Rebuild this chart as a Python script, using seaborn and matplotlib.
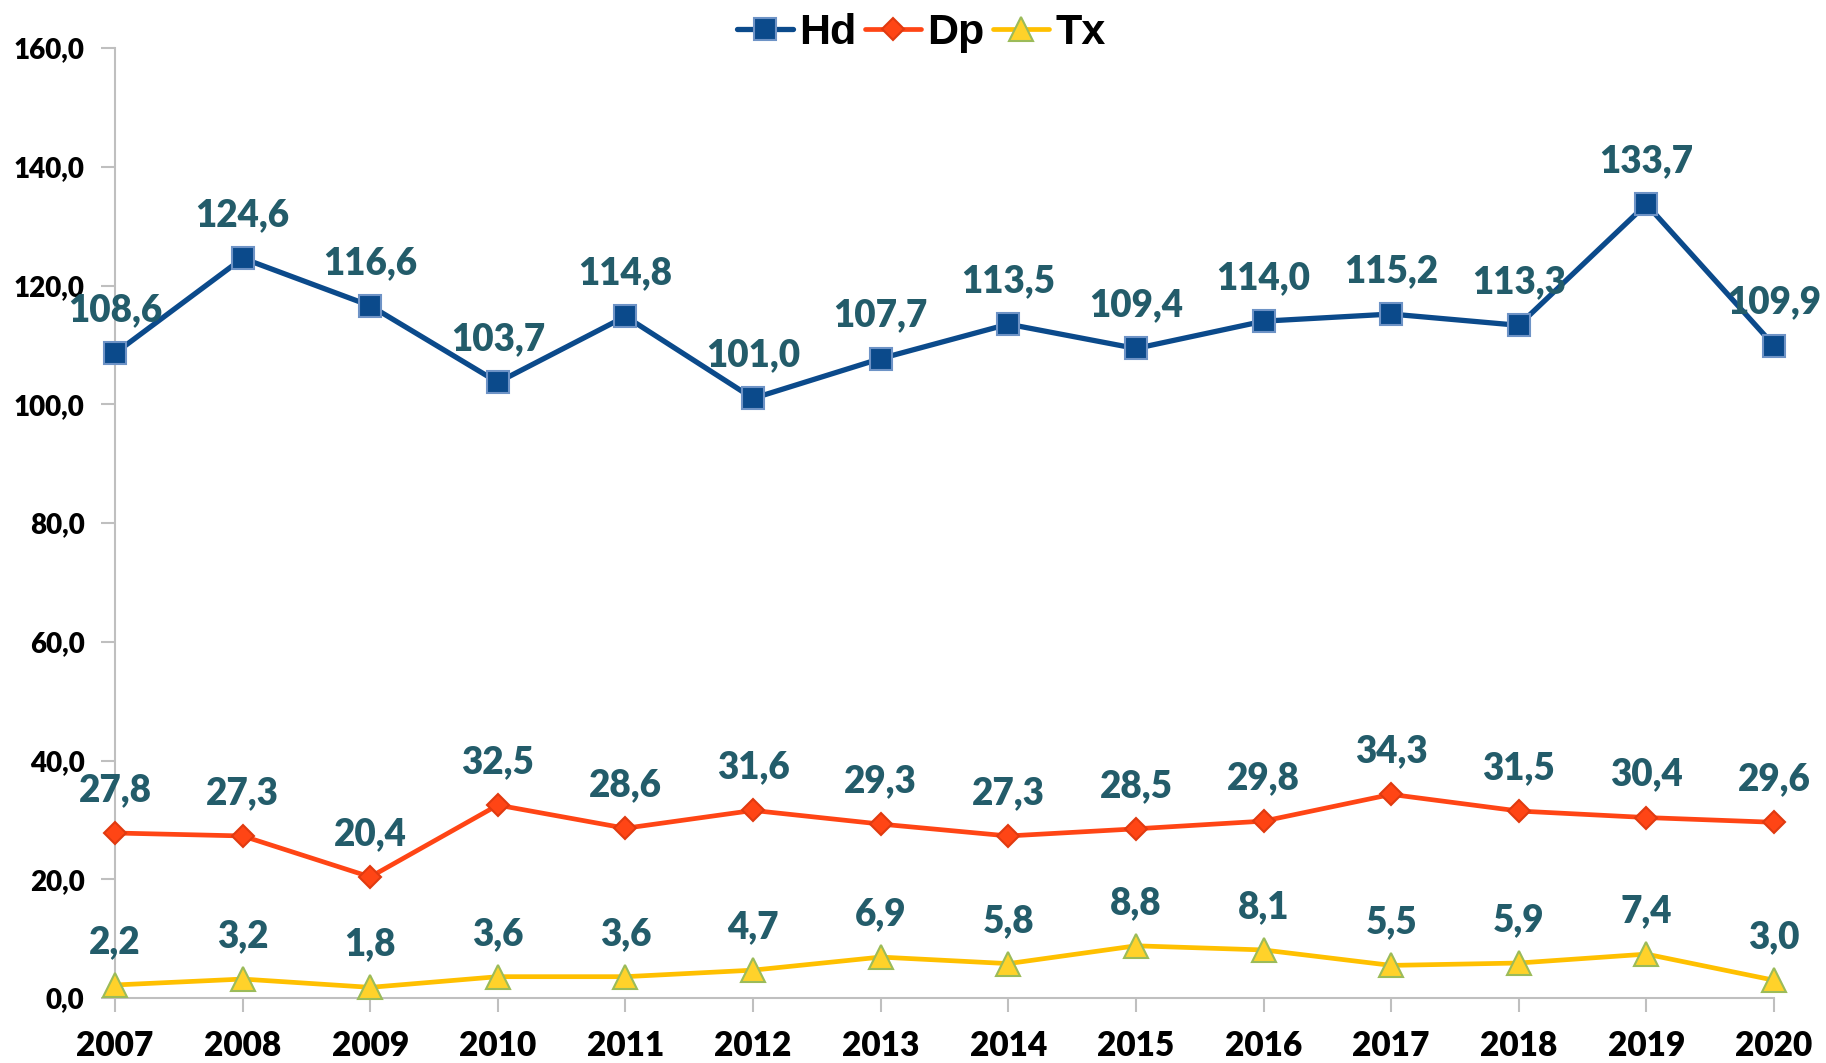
import matplotlib
matplotlib.use("Agg")
import matplotlib.pyplot as plt
import seaborn as sns
import pandas as pd
from matplotlib.ticker import FuncFormatter

years = [2007, 2008, 2009, 2010, 2011, 2012, 2013, 2014, 2015, 2016, 2017, 2018, 2019, 2020]
hd = [108.6, 124.6, 116.6, 103.7, 114.8, 101.0, 107.7, 113.5, 109.4, 114.0, 115.2, 113.3, 133.7, 109.9]
dp = [27.8, 27.3, 20.4, 32.5, 28.6, 31.6, 29.3, 27.3, 28.5, 29.8, 34.3, 31.5, 30.4, 29.6]
tx = [2.2, 3.2, 1.8, 3.6, 3.6, 4.7, 6.9, 5.8, 8.8, 8.1, 5.5, 5.9, 7.4, 3.0]
y_ticks = [0, 20, 40, 60, 80, 100, 120, 140, 160]

sns.set_theme(style="white")
plt.rcParams["font.family"] = ["Lato", "DejaVu Sans"]

fig = plt.figure(figsize=(18.26, 10.63), dpi=100)
ax = fig.add_axes([0.063, 0.0611, 0.9085, 0.8937])

series = [
    ("Hd", hd, "#0B4A8B", "s", 16, "#0B4A8B", "#6E93C6", 3.8),
    ("Dp", dp, "#FF4515", "D", 11, "#FF4515", "#E03A10", 3.4),
    ("Tx", tx, "#FFC000", "^", 17, "#FFD22A", "#9BBB59", 3.4),
]
label_color = "#235C6A"
for name, vals, lc, mk, ms, mfc, mec, lw in series:
    df = pd.DataFrame({"year": years, "value": vals})
    sns.lineplot(data=df, x="year", y="value", ax=ax, color=lc, marker=mk,
                 markersize=ms, markerfacecolor=mfc, markeredgecolor=mec,
                 markeredgewidth=1.5, linewidth=lw, label=name, zorder=3,
                 clip_on=False)
    for xv, yv in zip(years, vals):
        ax.annotate(f"{yv:.1f}".replace(".", ","), (xv, yv), xytext=(0, 23),
                    textcoords="offset points", ha="center", va="baseline",
                    fontsize=26.5, fontweight="heavy", color=label_color,
                    family=["Lato", "DejaVu Sans"], zorder=4, annotation_clip=False)

ax.set_xlim(2007, 2020)
ax.set_ylim(0, 160)
ax.set_xticks(years)
ax.set_yticks(y_ticks)
ax.yaxis.set_major_formatter(FuncFormatter(lambda v, p: f"{v:.1f}".replace(".", ",")))
ax.set_xlabel("")
ax.set_ylabel("")
for s in ["top", "right"]:
    ax.spines[s].set_visible(False)
for s in ["left", "bottom"]:
    ax.spines[s].set_color("#BFBFBF")
    ax.spines[s].set_linewidth(1.5)
ax.tick_params(axis="both", which="both", direction="out", length=10, width=1.5,
               color="#BFBFBF", left=True, bottom=True)
ax.tick_params(axis="x", pad=13)
ax.tick_params(axis="y", pad=12)
for t in ax.get_xticklabels():
    t.set_fontsize(24); t.set_fontweight("heavy"); t.set_color("black")
    t.set_family(["Lato", "DejaVu Sans"])
for t in ax.get_yticklabels():
    t.set_fontsize(20); t.set_fontweight("heavy"); t.set_color("black")
    t.set_family(["Lato", "DejaVu Sans"])

leg = ax.legend(loc="upper center", bbox_to_anchor=(0.486, 1.078), ncol=3, frameon=False,
                handlelength=1.3, handletextpad=0.15, columnspacing=0.2,
                prop={"family": ["Liberation Sans", "DejaVu Sans"], "weight": "bold", "size": 31})
for t in leg.get_texts():
    t.set_color("black")

fig.savefig("out.png", dpi=100)
